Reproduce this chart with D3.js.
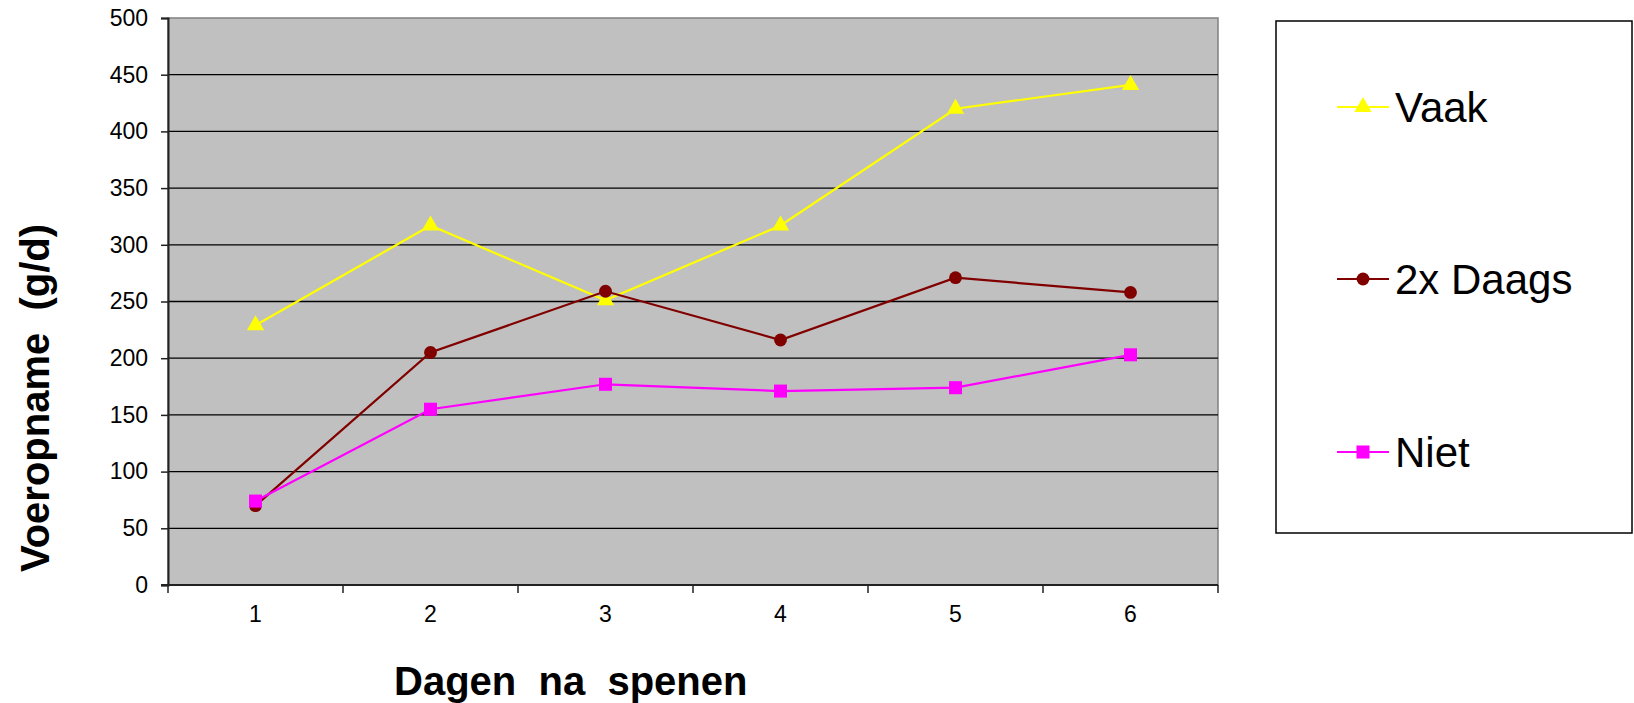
<!DOCTYPE html>
<html>
<head>
<meta charset="utf-8">
<script src="https://cdn.jsdelivr.net/npm/d3@7"></script>
<style>
	body { margin: 0; background: #ffffff; }
	svg { display: block; font-family: 'Liberation Sans', Arial, sans-serif; }
</style>
</head>
<body>
<svg id="chart"></svg>
<script>
// ========== DATA ==========
var days = ['1', '2', '3', '4', '5', '6'];
var yTicks = [0, 50, 100, 150, 200, 250, 300, 350, 400, 450, 500];
var seriesNames = ['Vaak', '2x Daags', 'Niet'];
var vaak = [229, 317, 251, 317, 420, 441];
var tweeDaags = [70, 205, 259, 216, 271, 258];
var niet = [74, 155, 177, 171, 174, 203];

makeChart();

function makeChart() {
	// ========== CONSTANTS ==========
	var width = 1634;
	var height = 703;
	var plot = { left: 168, right: 1218, top: 18, bottom: 585 };
	var grey_bg = '#c0c0c0';
	var colors = ['#ffff00', '#800000', '#ff00ff'];
	var markers = [d3.symbolTriangle, d3.symbolCircle, d3.symbolSquare];
	var markerSizes = [130, 130, 170];
	var values = [vaak, tweeDaags, niet];

	var svg = d3.select('#chart')
		.attr('width', width)
		.attr('height', height);

	var x = d3.scaleBand()
		.domain(days)
		.range([plot.left, plot.right]);
	var y = d3.scaleLinear()
		.domain([0, 500])
		.range([plot.bottom, plot.top]);

	// plot background
	svg.append('rect')
		.attr('x', plot.left)
		.attr('y', plot.top)
		.attr('width', plot.right - plot.left)
		.attr('height', plot.bottom - plot.top)
		.attr('fill', grey_bg)
		.attr('stroke', '#808080')
		.attr('stroke-width', 1.5);

	// gridlines
	svg.selectAll('.grid')
		.data(yTicks.filter(function(d) { return d > 0 && d < 500; }))
		.enter().append('line')
			.attr('class', 'grid')
			.attr('x1', plot.left)
			.attr('x2', plot.right)
			.attr('y1', function(d) { return y(d); })
			.attr('y2', function(d) { return y(d); })
			.attr('stroke', '#000000')
			.attr('stroke-width', 1.3);

	// y axis
	var yAxis = svg.append('g')
		.attr('transform', 'translate(' + plot.left + ',0)')
		.call(d3.axisLeft(y).tickValues(yTicks).tickSize(7).tickPadding(13));
	yAxis.select('.domain').attr('stroke', '#222222').attr('stroke-width', 2);
	yAxis.selectAll('.tick line').attr('stroke', '#222222').attr('stroke-width', 1.5);
	yAxis.selectAll('.tick text')
		.attr('font-size', 23)
		.attr('fill', '#000000')
		.attr('font-family', "'Liberation Sans', Arial, sans-serif");

	// x axis, ticks sit on the category boundaries
	var xAxis = svg.append('g')
		.attr('transform', 'translate(0,' + plot.bottom + ')');
	xAxis.append('line')
		.attr('x1', plot.left - 7)
		.attr('x2', plot.right)
		.attr('stroke', '#222222')
		.attr('stroke-width', 2);
	var bounds = days.map(function(d) { return x(d); }).concat([plot.right]);
	xAxis.selectAll('.xtick')
		.data(bounds).enter().append('line')
			.attr('class', 'xtick')
			.attr('x1', function(d) { return d; })
			.attr('x2', function(d) { return d; })
			.attr('y1', 0)
			.attr('y2', 8)
			.attr('stroke', '#222222')
			.attr('stroke-width', 1.5);
	xAxis.selectAll('.xlabel')
		.data(days).enter().append('text')
			.attr('class', 'xlabel')
			.attr('x', function(d) { return x(d) + x.bandwidth() / 2; })
			.attr('y', 37)
			.attr('text-anchor', 'middle')
			.attr('font-size', 23)
			.text(function(d) { return d; });

	// axis titles
	svg.append('text')
		.attr('x', 394)
		.attr('y', 695)
		.attr('font-size', 40)
		.attr('font-weight', 'bold')
		.style('white-space', 'pre')
		.text('Dagen  na  spenen');
	svg.append('text')
		.attr('transform', 'translate(49,398)rotate(-90)')
		.attr('text-anchor', 'middle')
		.attr('font-size', 40)
		.attr('font-weight', 'bold')
		.style('white-space', 'pre')
		.text('Voeropname  (g/d)');

	// ========== SERIES ==========
	var line = d3.line()
		.x(function(d, i) { return x(days[i]) + x.bandwidth() / 2; })
		.y(function(d) { return y(d); });

	values.forEach(function(vals, s) {
		svg.append('path')
			.attr('d', line(vals))
			.attr('fill', 'none')
			.attr('stroke', colors[s])
			.attr('stroke-width', 2.2);
		svg.selectAll('.pt' + s)
			.data(vals).enter().append('path')
				.attr('class', 'pt' + s)
				.attr('transform', function(d, i) {
					return 'translate(' + (x(days[i]) + x.bandwidth() / 2) + ',' + y(d) + ')';
				})
				.attr('d', d3.symbol().type(markers[s]).size(markerSizes[s]))
				.attr('fill', colors[s]);
	});

	// ========== LEGEND ==========
	var legend = svg.append('g');
	legend.append('rect')
		.attr('x', 1276)
		.attr('y', 21)
		.attr('width', 356)
		.attr('height', 512)
		.attr('fill', '#ffffff')
		.attr('stroke', '#000000')
		.attr('stroke-width', 1.5);

	var legend_y = [107, 279, 452];
	seriesNames.forEach(function(name, s) {
		legend.append('line')
			.attr('x1', 1337)
			.attr('x2', 1389)
			.attr('y1', legend_y[s])
			.attr('y2', legend_y[s])
			.attr('stroke', colors[s])
			.attr('stroke-width', 2);
		legend.append('path')
			.attr('transform', 'translate(1363,' + legend_y[s] + ')')
			.attr('d', d3.symbol().type(markers[s]).size(markerSizes[s]))
			.attr('fill', colors[s]);
		legend.append('text')
			.attr('x', 1395)
			.attr('y', legend_y[s])
			.attr('dy', '0.35em')
			.attr('font-size', 42)
			.text(name);
	});
}
</script>
</body>
</html>
